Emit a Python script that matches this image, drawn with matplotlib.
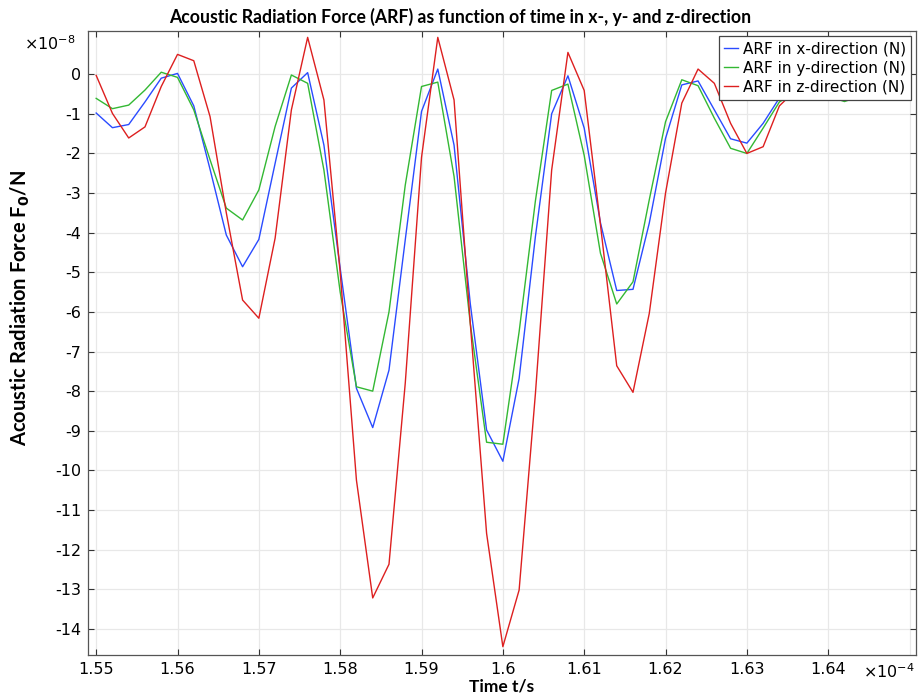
import numpy as np
import matplotlib
matplotlib.use("Agg")
import matplotlib.pyplot as plt
from matplotlib.ticker import FuncFormatter

# ---- Data ----
t_start = 1.55e-4
t_step = 2e-7
n_points = 51
time = t_start + t_step * np.arange(n_points)

# ARF values in units of 1e-8 N
arf_x = [-0.98, -1.35, -1.27, -0.70, -0.10, 0.02, -0.80, -2.40, -4.06, -4.86,
         -4.17, -2.25, -0.35, 0.04, -1.79, -4.90, -7.93, -8.92, -7.47, -4.18,
         -0.94, 0.13, -1.79, -5.80, -8.98, -9.77, -7.68, -4.10, -1.00, -0.04,
         -1.36, -3.75, -5.46, -5.43, -3.76, -1.62, -0.27, -0.17, -0.90, -1.63,
         -1.74, -1.24, -0.60, -0.35, -0.40, -0.50, -0.55, -0.50, -0.45, -0.45,
         -0.50]
arf_y = [-0.61, -0.87, -0.78, -0.40, 0.05, -0.08, -0.90, -2.16, -3.38, -3.68,
         -2.92, -1.32, -0.02, -0.23, -2.42, -5.50, -7.89, -8.00, -6.00, -2.80,
         -0.31, -0.20, -2.58, -6.30, -9.29, -9.34, -6.50, -3.20, -0.41, -0.25,
         -2.05, -4.52, -5.80, -5.24, -3.17, -1.20, -0.14, -0.29, -1.11, -1.87,
         -2.00, -1.36, -0.70, -0.45, -0.50, -0.55, -0.69, -0.55, -0.45, -0.45,
         -0.50]
arf_z = [-0.03, -0.99, -1.61, -1.33, -0.31, 0.50, 0.34, -1.07, -3.50, -5.70,
         -6.16, -4.14, -0.90, 0.93, -0.65, -5.00, -10.25, -13.22, -12.37, -7.80,
         -2.10, 0.93, -0.65, -6.30, -11.59, -14.45, -13.02, -8.07, -2.42, 0.55,
         -0.41, -3.80, -7.36, -8.03, -6.04, -3.00, -0.73, 0.13, -0.23, -1.24,
         -2.00, -1.83, -0.80, -0.40, -0.40, -0.50, -0.55, -0.50, -0.45, -0.45,
         -0.50]

labels = ["ARF in x-direction (N)", "ARF in y-direction (N)", "ARF in z-direction (N)"]
colors = ["#2a4bff", "#33b833", "#dd1f1f"]

x_ticks = [1.55, 1.56, 1.57, 1.58, 1.59, 1.60, 1.61, 1.62, 1.63, 1.64]  # x1e-4 s
y_ticks = list(range(-14, 1))  # x1e-8 N

plt.rcParams['axes.unicode_minus'] = False

fig = plt.figure(figsize=(9.2, 6.94), dpi=100)
ax = fig.add_axes([0.0957, 0.0562, 0.9, 0.8991])

for vals, lab, col in zip([arf_x, arf_y, arf_z], labels, colors):
    ax.plot(time, np.array(vals) * 1e-8, color=col, lw=1.0, label=lab)

ax.set_xlim(1.549e-4, 1.6508e-4)
ax.set_ylim(-14.66e-8, 1.09e-8)

ax.set_xticks([v * 1e-4 for v in x_ticks])
ax.set_yticks([v * 1e-8 for v in y_ticks])
ax.xaxis.set_major_formatter(FuncFormatter(lambda v, p: f"{v / 1e-4:.2f}".rstrip('0').rstrip('.')))
ax.yaxis.set_major_formatter(FuncFormatter(lambda v, p: f"{round(v / 1e-8):d}"))

ax.grid(True, color="#e8e8e8", lw=0.9)
# extra gridline at 1.65 as in the reference
ax.axvline(1.65e-4, color="#e8e8e8", lw=0.9, zorder=0)
ax.set_axisbelow(True)
ax.tick_params(direction="in", top=True, right=True, length=4, width=0.8,
               labelsize=11.5, colors="#333333", labelcolor="black", pad=5)
for s in ax.spines.values():
    s.set_color("#555555")
    s.set_linewidth(0.9)

ax.text(-0.015, 0.995, r"$\times$10$^{-8}$", transform=ax.transAxes, ha="right", va="top",
        fontsize=11.5)
ax.text(0.999, -0.012, r"$\times$10$^{-4}$", transform=ax.transAxes, ha="right", va="top",
        fontsize=11.5)

fig.text(0.5, 1 - 17 / 694, "Acoustic Radiation Force (ARF) as function of time in x-, y- and z-direction",
         fontsize=12.7, fontweight="bold", family="Lato", ha="center", va="center")
ax.set_xlabel("Time t/s", fontsize=12.5, fontweight="bold", family="Lato", labelpad=1)
ax.set_ylabel(r"Acoustic Radiation Force F$_\mathbf{0}$/N", fontsize=14.5,
              fontweight="bold", family="Lato")
ax.yaxis.set_label_coords(-0.068, 0.556)

leg = ax.legend(loc="upper right", fontsize=11, handlelength=0.9, handletextpad=0.3,
                borderpad=0.32, labelspacing=0.28, borderaxespad=0.35,
                fancybox=False, framealpha=1.0, edgecolor="#444444")
leg.get_frame().set_linewidth(0.9)

fig.savefig("out.png", dpi=100)
